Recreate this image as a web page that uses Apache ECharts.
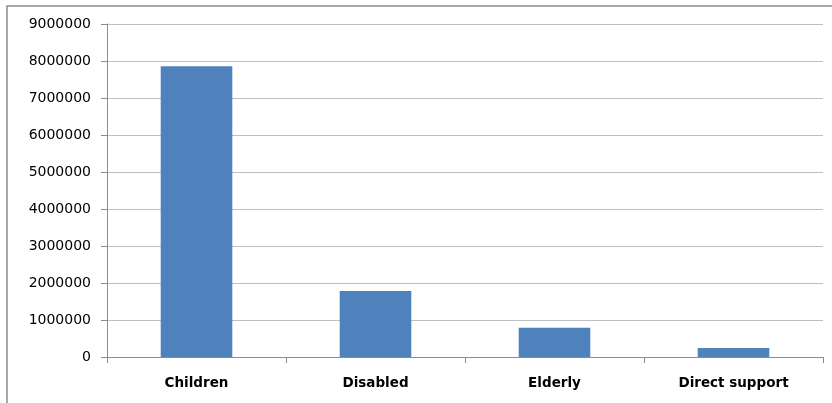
<!DOCTYPE html>
<html>
<head>
<meta charset="utf-8">
<script src="https://cdn.jsdelivr.net/npm/echarts@6/dist/echarts.min.js"></script>
<style>
  html, body { margin: 0; padding: 0; background: #ffffff; }
  #chart { width: 832px; height: 403px; }
</style>
</head>
<body>
<div id="chart"></div>
<script>
// Recipients by group
const categories = ['Children', 'Disabled', 'Elderly', 'Direct support'];
const values = [7860000, 1785000, 790000, 245000];
const yMin = 0;
const yMax = 9000000;
const yStep = 1000000;

const chart = echarts.init(document.getElementById('chart'), null, { renderer: 'canvas' });

chart.setOption({
  animation: false,
  backgroundColor: '#ffffff',
  grid: { left: 107, top: 24, right: 9, bottom: 46, containLabel: false },
  graphic: [
    // outer chart frame (left and top edges visible)
    {
      type: 'polyline',
      shape: { points: [[7, 403], [7, 6], [832, 6]] },
      style: { stroke: '#8c8c8c', lineWidth: 1.5, fill: null },
      silent: true
    }
  ],
  xAxis: {
    type: 'category',
    data: categories,
    axisLine: { show: true, lineStyle: { color: '#8c8c8c', width: 1 } },
    axisTick: { show: true, alignWithLabel: false, length: 6, lineStyle: { color: '#8c8c8c' } },
    axisLabel: {
      color: '#000000',
      fontFamily: 'DejaVu Sans',
      fontWeight: 'bold',
      fontSize: 13.5,
      margin: 19
    },
    splitLine: { show: false }
  },
  yAxis: {
    type: 'value',
    min: yMin,
    max: yMax,
    interval: yStep,
    axisLine: { show: true, lineStyle: { color: '#8c8c8c', width: 1 } },
    axisTick: { show: true, length: 6, lineStyle: { color: '#8c8c8c' } },
    axisLabel: {
      color: '#000000',
      fontFamily: 'DejaVu Sans',
      fontSize: 14,
      margin: 16,
      formatter: v => String(v)
    },
    splitLine: { show: true, lineStyle: { color: '#bfbfbf', width: 1 } }
  },
  series: [{
    type: 'bar',
    data: values,
    barWidth: '40%',
    itemStyle: { color: '#4f81bd' }
  }]
});
</script>
</body>
</html>
